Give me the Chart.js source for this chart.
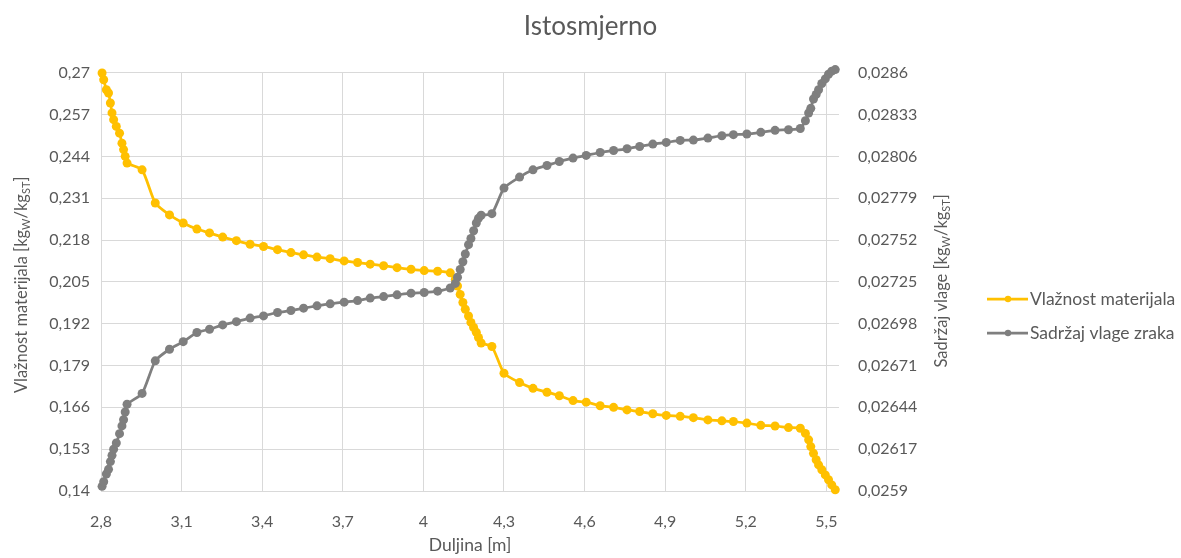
<!DOCTYPE html>
<html>
<head>
<meta charset="utf-8">
<script src="https://cdn.jsdelivr.net/npm/chart.js@4.4.1/dist/chart.umd.min.js"></script>
<style>
  html, body { margin: 0; padding: 0; background: #fff; }
  #wrap { width: 1181px; height: 558px; }
</style>
</head>
<body>
<div id="wrap"><canvas id="chart" width="1181" height="558"></canvas></div>
<script>
'use strict';

// ── Data ──────────────────────────────────────────────
const lengths = [
  2.804, 2.810, 2.820, 2.828, 2.835, 2.841, 2.847, 2.857, 2.869, 2.878, 2.884, 2.890, 2.897,
  2.953, 3.002, 3.055, 3.106, 3.157, 3.204, 3.253, 3.304, 3.355, 3.405, 3.457, 3.507,
  3.554, 3.604, 3.653, 3.705, 3.755, 3.802, 3.852, 3.902, 3.954, 4.003, 4.053,
  4.100, 4.119, 4.127, 4.137, 4.147, 4.156, 4.168, 4.177, 4.187, 4.197, 4.205, 4.215,
  4.255, 4.300, 4.358, 4.408, 4.460, 4.506, 4.557, 4.606, 4.658, 4.708, 4.758, 4.805,
  4.854, 4.904, 4.956, 5.005, 5.059, 5.111, 5.154, 5.204, 5.256, 5.309, 5.359,
  5.403, 5.422, 5.434, 5.442, 5.452, 5.462, 5.471, 5.483, 5.496, 5.508, 5.520, 5.533
];

const materialMoisture = [
  0.2699, 0.2678, 0.2647, 0.2637, 0.2606, 0.2575, 0.2554, 0.2533, 0.2512, 0.2481, 0.2461, 0.2440, 0.2419,
  0.2398, 0.2295, 0.2258, 0.2233, 0.2214, 0.2202, 0.2189, 0.2178, 0.2167, 0.2160, 0.2150, 0.2141,
  0.2134, 0.2127, 0.2122, 0.2115, 0.2110, 0.2105, 0.2100, 0.2094, 0.2089, 0.2085, 0.2083,
  0.2078, 0.2058, 0.2037, 0.2011, 0.1986, 0.1965, 0.1944, 0.1924, 0.1908, 0.1893, 0.1877, 0.1860,
  0.1849, 0.1766, 0.1737, 0.1719, 0.1707, 0.1696, 0.1681, 0.1676, 0.1665, 0.1660, 0.1652, 0.1647,
  0.1640, 0.1635, 0.1632, 0.1628, 0.1621, 0.1618, 0.1616, 0.1611, 0.1604, 0.1602, 0.1597,
  0.1595, 0.1579, 0.1559, 0.1538, 0.1517, 0.1497, 0.1481, 0.1466, 0.1450, 0.1435, 0.1419, 0.1404
];

const airMoisture = [
  0.02593, 0.02596, 0.02601, 0.02604, 0.02609, 0.02613, 0.02617, 0.02621, 0.02627, 0.02632, 0.02636, 0.02641, 0.02646,
  0.02653, 0.02674, 0.026815, 0.026864, 0.026923, 0.026944, 0.026972, 0.026993, 0.027016, 0.02703, 0.027052, 0.027065,
  0.02708, 0.027095, 0.027108, 0.027119, 0.027129, 0.027145, 0.027155, 0.027166, 0.027177, 0.027181, 0.02719,
  0.02721, 0.02724, 0.02728, 0.02733, 0.02738, 0.02743, 0.02749, 0.02753, 0.02758, 0.02763, 0.02766, 0.02768,
  0.02769, 0.027855, 0.027926, 0.027973, 0.028001, 0.028027, 0.028049, 0.028066, 0.028085, 0.028098, 0.028109, 0.028124,
  0.028139, 0.02815, 0.028163, 0.028165, 0.028178, 0.028193, 0.0282, 0.028204, 0.028215, 0.028228, 0.028232,
  0.02824, 0.02829, 0.02834, 0.02837, 0.02843, 0.02846, 0.02849, 0.02853, 0.02856, 0.02859, 0.02861, 0.02862
];

const xTicks     = [2.8, 3.1, 3.4, 3.7, 4, 4.3, 4.6, 4.9, 5.2, 5.5];
const leftTicks  = [0.14, 0.153, 0.166, 0.179, 0.192, 0.205, 0.218, 0.231, 0.244, 0.257, 0.27];
const rightTicks = [0.0259, 0.02617, 0.02644, 0.02671, 0.02698, 0.02725, 0.02752, 0.02779, 0.02806, 0.02833, 0.0286];

const seriesNames = ['Vlažnost materijala', 'Sadržaj vlage zraka'];

// ── Style ─────────────────────────────────────────────
const FONT   = 'Lato, Carlito, "Open Sans", sans-serif';
const TEXT   = '#595959';
const GRID   = '#d9d9d9';
const YELLOW = '#FFC000';
const GREY   = '#7F7F7F';

const comma = v => String(v).replace('.', ',');
const pts   = ys => lengths.map((x, i) => ({ x, y: ys[i] }));
const fixTicks = arr => scale => { scale.ticks = arr.map(v => ({ value: v })); };

// axis titles with subscripts + legend, drawn on the canvas
function drawSubText(ctx, parts, cx, cy, size) {
  ctx.save();
  ctx.translate(cx, cy);
  ctx.rotate(-Math.PI / 2);
  ctx.fillStyle = TEXT;
  ctx.textBaseline = 'middle';
  ctx.textAlign = 'left';
  const fontOf = sub => `${sub ? Math.round(size * 0.65) : size}px ${FONT}`;
  let total = 0;
  parts.forEach(([t, sub]) => { ctx.font = fontOf(sub); total += ctx.measureText(t).width; });
  let x = -total / 2;
  parts.forEach(([t, sub]) => {
    ctx.font = fontOf(sub);
    ctx.fillText(t, x, sub ? size * 0.3 : 0);
    x += ctx.measureText(t).width;
  });
  ctx.restore();
}

const extrasPlugin = {
  id: 'extras',
  afterDraw(chart) {
    const ctx = chart.ctx;
    const ca  = chart.chartArea;
    const cy  = (ca.top + ca.bottom) / 2 + 3;

    drawSubText(ctx, [['Vlažnost materijala [kg', false], ['W', true], ['/kg', false], ['ST', true], [']', false]], 22, cy, 16.5);
    drawSubText(ctx, [['Sadržaj vlage [kg', false], ['W', true], ['/kg', false], ['ST', true], [']', false]], 942, cy - 4, 16.5);

    // legend
    const rows = [[YELLOW, 299], [GREY, 333]];
    rows.forEach(([col, y], i) => {
      ctx.save();
      ctx.strokeStyle = col;
      ctx.lineWidth = 2.75;
      ctx.beginPath();
      ctx.moveTo(987, y);
      ctx.lineTo(1028, y);
      ctx.stroke();
      ctx.fillStyle = col;
      ctx.beginPath();
      ctx.arc(1008, y, 3.2, 0, Math.PI * 2);
      ctx.fill();
      ctx.fillStyle = TEXT;
      ctx.font = `17.5px ${FONT}`;
      ctx.textBaseline = 'middle';
      ctx.fillText(seriesNames[i], 1030, y);
      ctx.restore();
    });
  },
};

// ── Chart ─────────────────────────────────────────────
new Chart(document.getElementById('chart'), {
  type: 'line',
  data: {
    datasets: [
      {
        label: seriesNames[0],
        data: pts(materialMoisture),
        yAxisID: 'yL',
        borderColor: YELLOW,
        backgroundColor: YELLOW,
        borderWidth: 2.75,
        pointRadius: 4.5,
        pointBorderWidth: 0,
        tension: 0.2,
        clip: false,
        order: 1,
      },
      {
        label: seriesNames[1],
        data: pts(airMoisture),
        yAxisID: 'yR',
        borderColor: GREY,
        backgroundColor: GREY,
        borderWidth: 2.75,
        pointRadius: 4.5,
        pointBorderWidth: 0,
        tension: 0.2,
        clip: false,
        order: 0,
      },
    ],
  },
  options: {
    responsive: false,
    animation: false,
    layout: { padding: { top: 4, left: 0, right: 0, bottom: 0 } },
    plugins: {
      legend:  { display: false },
      tooltip: { enabled: false },
      title: {
        display: true,
        text: 'Istosmjerno',
        color: TEXT,
        font: { family: FONT, size: 26, weight: 'normal' },
        padding: { top: 7, bottom: 30.5 },
      },
    },
    scales: {
      x: {
        type: 'linear',
        min: 2.8,
        max: 5.547,
        afterBuildTicks: fixTicks(xTicks),
        afterFit: s => { s.height = 67; },
        grid:   { color: GRID, drawTicks: false },
        border: { display: false },
        ticks: {
          color: TEXT, font: { family: FONT, size: 16 },
          padding: 21, autoSkip: false, maxRotation: 0,
          callback: v => comma(v),
        },
        title: {
          display: true, text: 'Duljina [m]', color: TEXT,
          font: { family: FONT, size: 17.5 }, padding: { top: 0, bottom: 2 },
        },
      },
      yL: {
        type: 'linear',
        position: 'left',
        min: 0.14,
        max: 0.27,
        afterBuildTicks: fixTicks(leftTicks),
        afterFit: s => { s.width = 101; },
        grid:   { color: GRID, drawTicks: false },
        border: { display: false },
        ticks: {
          color: TEXT, font: { family: FONT, size: 16 },
          padding: 11, autoSkip: false,
          callback: v => comma(v),
        },
      },
      yR: {
        type: 'linear',
        position: 'right',
        min: 0.0259,
        max: 0.0286,
        afterBuildTicks: fixTicks(rightTicks),
        afterFit: s => { s.width = 342; },
        grid:   { display: false, drawTicks: false },
        border: { display: false },
        ticks: {
          color: TEXT, font: { family: FONT, size: 16 },
          padding: 19, autoSkip: false,
          callback: v => comma(v),
        },
      },
    },
  },
  plugins: [extrasPlugin],
});
</script>
</body>
</html>
